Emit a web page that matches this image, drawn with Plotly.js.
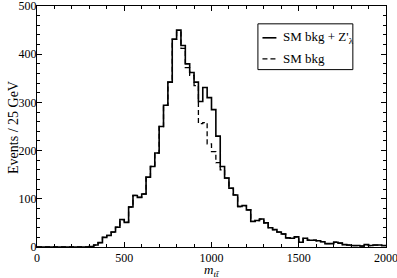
<!DOCTYPE html>
<html>
<head>
<meta charset="utf-8">
<script src="https://cdn.plot.ly/plotly-3.0.1.min.js"></script>
<style>html,body{margin:0;padding:0;background:#fff;}#chart{width:397px;height:278px;}</style>
</head>
<body>
<div id="chart"></div>
<script>
// Bin width 25 GeV, bins from 0 to 2000 GeV (80 bins)
const binWidth = 25;
const binCount = 80;
const binEdges = Array.from({length: binCount + 1}, (_, i) => i * binWidth);

// SM bkg + Z'_lambda (solid)
const signalPlusBkg = [
  0, 0, 0, 0, 0, 0, 0, 0, 0, 0, 0, 0,
  1, 4, 9, 20, 24, 31, 41, 57,
  51, 83, 107, 103, 110, 145, 167, 195,
  250, 294, 342, 431, 450, 418, 380, 362,
  342, 302, 331, 310, 285, 230, 167, 143,
  122, 108, 84, 86, 77, 53, 55, 58,
  50, 40, 36, 31, 27, 19, 18, 21,
  10, 18, 14, 14, 13, 11, 7, 7,
  10, 8, 5, 4, 3, 3, 2, 5,
  3, 4, 4, 3
];

// SM bkg (dashed)
const smBkg = [
  0, 0, 0, 0, 0, 0, 0, 0, 0, 0, 0, 0,
  1, 4, 9, 20, 24, 31, 41, 57,
  51, 83, 107, 103, 110, 145, 167, 195,
  250, 294, 342, 431, 446, 412, 372, 356,
  335, 256, 258, 214, 198, 175, 160, 143,
  122, 108, 84, 86, 77, 53, 55, 58,
  50, 40, 36, 31, 27, 19, 18, 21,
  10, 18, 14, 14, 13, 11, 7, 7,
  10, 8, 5, 4, 3, 3, 2, 5,
  3, 4, 4, 3
];

const seriesNames = ["SM bkg + Z'<sub>λ</sub>", "SM bkg"];
const xTitle = '<i>m</i><sub><i>tt̄</i></sub>';
const yTitle = 'Events / 25 GeV';
const xTickVals = [0, 500, 1000, 1500, 2000];
const yTickVals = [0, 100, 200, 300, 400, 500];

function stepY(vals) { return vals.concat([vals[vals.length - 1]]); }

const font = 'Liberation Serif, Times New Roman, serif';
const lineStyles = [
  {shape: 'hv', color: '#000', width: 1.6},
  {shape: 'hv', color: '#000', width: 1.3, dash: '5px,3px'}
];

const traces = [
  {x: binEdges, y: stepY(signalPlusBkg), type: 'scatter', mode: 'lines', line: lineStyles[0], name: seriesNames[0]},
  {x: binEdges, y: stepY(smBkg), type: 'scatter', mode: 'lines', line: lineStyles[1], name: seriesNames[1]}
];

// Hand-built legend box (short line samples, like the original)
const lgX0 = 0.633, lgX1 = 0.905, lgY0 = 0.736, lgY1 = 0.926;
const rowY = [0.868, 0.781];
const shapes = [
  {type: 'rect', xref: 'paper', yref: 'paper', x0: lgX0, x1: lgX1, y0: lgY0, y1: lgY1,
   line: {color: '#000', width: 1}, fillcolor: '#fff', layer: 'above'}
];
const annotations = [];
seriesNames.forEach((nm, i) => {
  shapes.push({type: 'line', xref: 'paper', yref: 'paper', x0: 0.646, x1: 0.686, y0: rowY[i], y1: rowY[i],
    line: {color: '#000', width: lineStyles[i].width, dash: lineStyles[i].dash || 'solid'}, layer: 'above'});
  annotations.push({xref: 'paper', yref: 'paper', x: 0.698, y: rowY[i], xanchor: 'left', yanchor: 'middle',
    text: nm, showarrow: false, font: {family: font, size: 13, color: '#000'}});
});

// Axis titles placed as annotations for exact positioning
annotations.push({xref: 'paper', yref: 'paper', x: 0.5, y: -0.096, xanchor: 'center', yanchor: 'middle',
  borderpad: 0, text: xTitle, showarrow: false, font: {family: font, size: 13, color: '#000'}});
annotations.push({xref: 'paper', yref: 'paper', x: -0.068, y: 0.495, xanchor: 'center', yanchor: 'middle',
  textangle: -90, text: yTitle, showarrow: false, font: {family: font, size: 14, color: '#000'}});

const axisCommon = {
  showline: true, linecolor: '#000', linewidth: 1, mirror: 'allticks',
  ticks: 'inside', ticklen: 5, tickwidth: 1, tickcolor: '#000',
  showgrid: false, zeroline: false, ticklabeloverflow: 'allow',
  tickfont: {family: font, size: 12, color: '#000'}
};

const layout = {
  width: 397, height: 278,
  margin: {l: 37, r: 11, t: 5.5, b: 30.5, pad: 0},
  paper_bgcolor: '#fff', plot_bgcolor: '#fff',
  showlegend: false,
  shapes: shapes,
  annotations: annotations,
  xaxis: Object.assign({}, axisCommon, {
    range: [0, 2000], tickvals: xTickVals, ticktext: xTickVals.map(String),
    minor: {dtick: 100, ticks: 'inside', ticklen: 3, tickcolor: '#000', showgrid: false}
  }),
  yaxis: Object.assign({}, axisCommon, {
    range: [0, 500], tickvals: yTickVals, ticktext: yTickVals.map(String),
    ticklabelstandoff: -3,
    minor: {dtick: 20, ticks: 'inside', ticklen: 3, tickcolor: '#000', showgrid: false}
  })
};

Plotly.newPlot('chart', traces, layout, {displayModeBar: false, staticPlot: true});
</script>
</body>
</html>
